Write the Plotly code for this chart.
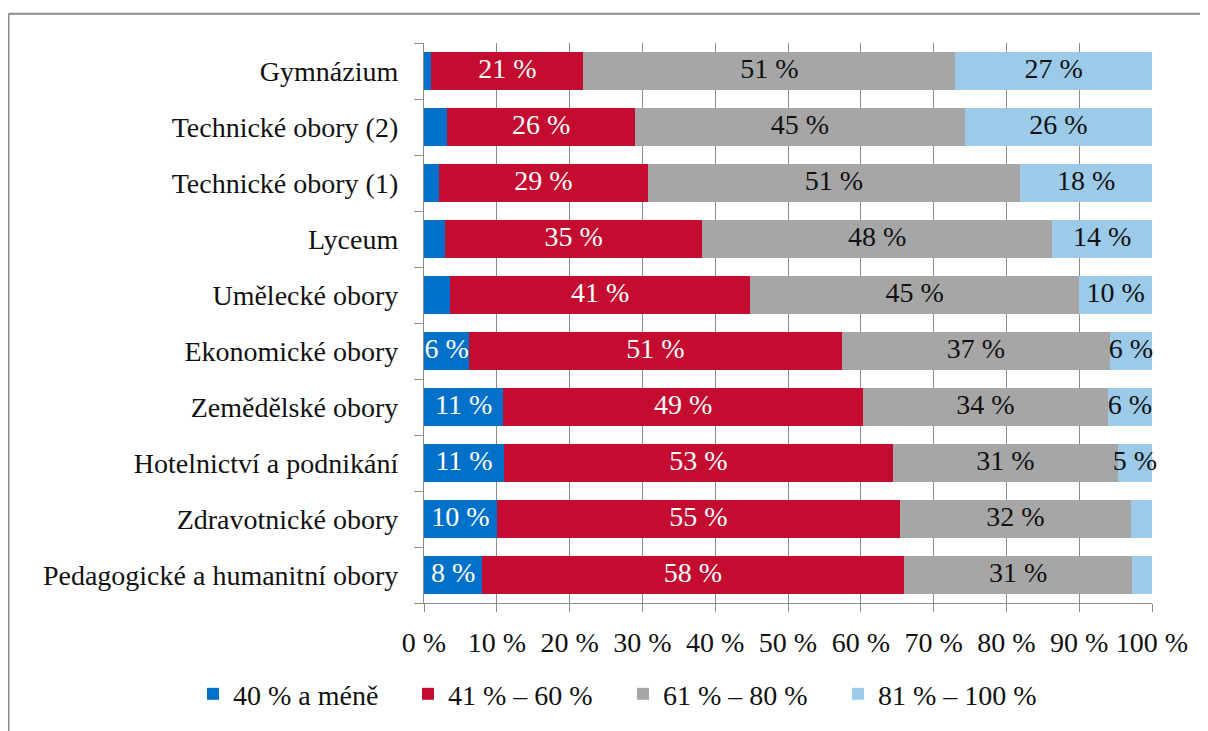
import plotly.graph_objects as go

# categories, bottom to top as drawn
obory = [
    "Pedagogické a humanitní obory",
    "Zdravotnické obory",
    "Hotelnictví a podnikání",
    "Zemědělské obory",
    "Ekonomické obory",
    "Umělecké obory",
    "Lyceum",
    "Technické obory (1)",
    "Technické obory (2)",
    "Gymnázium",
]

# share of pupils (%) per band, same order as obory
do_40 = [8.0, 10.0, 11.0, 10.9, 6.2, 3.6, 2.9, 2.1, 3.2, 1.0]
od_41_60 = [57.9, 55.4, 53.4, 49.4, 51.2, 41.2, 35.3, 28.6, 25.8, 20.9]
od_61_80 = [31.4, 31.7, 30.9, 33.6, 36.8, 45.2, 48.1, 51.2, 45.3, 51.1]
od_81_100 = [2.7, 2.9, 4.7, 6.1, 5.8, 10.0, 13.7, 18.1, 25.7, 27.0]

nazvy = ["40 % a méně", "41 % – 60 %", "61 % – 80 %", "81 % – 100 %"]
barvy = ["#0070C8", "#C40C30", "#A6A6A6", "#9CCAE9"]
barvy_textu = ["white", "white", "#111111", "#111111"]

x_ticks = list(range(0, 101, 10))
x_tick_labels = [f"{v} %" for v in x_ticks]

FONT = "Liberation Serif, Times New Roman, serif"
FS = 28

serie = [do_40, od_41_60, od_61_80, od_81_100]

fig = go.Figure()
for hodnoty, nazev, barva in zip(serie, nazvy, barvy):
    fig.add_trace(go.Bar(
        y=obory,
        x=hodnoty,
        name=nazev,
        orientation="h",
        marker=dict(color=barva, line=dict(width=0)),
        hoverinfo="skip",
    ))

# data labels centred in each segment (small segments stay unlabelled)
zacatky = [0.0] * len(obory)
for hodnoty, tb in zip(serie, barvy_textu):
    stredy = [z + v / 2 for z, v in zip(zacatky, hodnoty)]
    texty = [f"{round(v)} %" if v >= 4.5 else "" for v in hodnoty]
    fig.add_trace(go.Scatter(
        x=stredy,
        y=obory,
        mode="text",
        text=texty,
        textposition="middle center",
        textfont=dict(family=FONT, size=FS, color=tb),
        showlegend=False,
        hoverinfo="skip",
        cliponaxis=False,
    ))
    zacatky = [z + v for z, v in zip(zacatky, hodnoty)]

# the page adds an 8 px body margin, so the figure is 8 px smaller
W, H = 1200, 723
L, R, T, B = 416, 56, 34.5, 123
pw, ph = W - L - R, H - T - B


def px2paper(x, y):
    return (x - L) / pw, (H - B - y) / ph


# outer frame (top and left edges visible in the reference)
x0, y0 = px2paper(0.5, 5)
x1, y1 = px2paper(W + 10, H + 10)
fig.add_shape(type="line", xref="paper", yref="paper", x0=x0, y0=y0, x1=x1, y1=y0,
              line=dict(color="#8C8C8C", width=2))
fig.add_shape(type="line", xref="paper", yref="paper", x0=x0, y0=y0, x1=x0, y1=y1,
              line=dict(color="#8C8C8C", width=2))

lx, ly = px2paper(185, 692)

fig.update_layout(
    width=W,
    height=H,
    barmode="stack",
    bargap=0.33,
    margin=dict(l=L, r=R, t=T, b=B),
    paper_bgcolor="white",
    plot_bgcolor="white",
    font=dict(family=FONT, size=FS, color="#111111"),
    showlegend=True,
    legend=dict(
        orientation="h",
        x=lx,
        y=ly,
        xanchor="left",
        yanchor="middle",
        font=dict(family=FONT, size=FS, color="#111111"),
        itemwidth=30,
        entrywidth=170,
        entrywidthmode="pixels",
        traceorder="normal",
    ),
    xaxis=dict(
        range=[0, 100],
        tickvals=x_ticks,
        ticktext=x_tick_labels,
        showgrid=True,
        gridcolor="#8C8C8C",
        gridwidth=1.3,
        zeroline=False,
        showline=True,
        linecolor="#8C8C8C",
        linewidth=1.3,
        ticks="outside",
        ticklen=8,
        tickcolor="#8C8C8C",
        ticklabelstandoff=6,
        tickfont=dict(family=FONT, size=FS, color="#111111"),
        fixedrange=True,
    ),
    yaxis=dict(
        categoryorder="array",
        categoryarray=obory,
        showline=True,
        linecolor="#8C8C8C",
        linewidth=1.3,
        ticks="outside",
        tickson="boundaries",
        ticklen=9,
        tickcolor="#8C8C8C",
        ticklabelstandoff=19,
        showgrid=False,
        tickfont=dict(family=FONT, size=FS, color="#111111"),
        fixedrange=True,
    ),
)

fig.write_html("out.html")
